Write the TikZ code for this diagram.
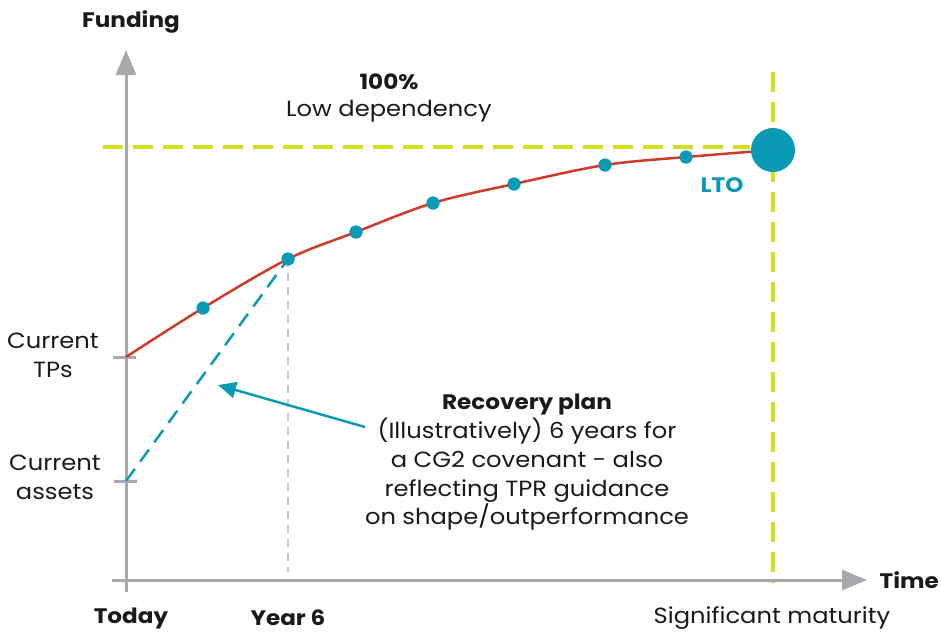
\documentclass[tikz,border=0pt]{standalone}
\usepackage{fontspec}
\setmainfont{Poppins}[FakeStretch=1.1]
\usetikzlibrary{arrows.meta}
\definecolor{axisgray}{HTML}{A7A9AC}
\definecolor{teal}{HTML}{0A9AB5}
\definecolor{curvered}{HTML}{D03A2A}
\definecolor{lime}{HTML}{D3DE1C}
\definecolor{guide}{HTML}{C3CBD6}
\definecolor{ink}{HTML}{1A1A1A}
\tikzset{
  axis/.style={draw=axisgray, line width=3pt},
  axisarrow/.style={-{Triangle[length=25pt,width=20pt]}},
  limedash/.style={draw=lime, line width=4pt, dash pattern=on 20pt off 10pt},
  dot/.style={circle, fill=teal, inner sep=0pt, minimum size=13pt},
  lbl/.style={text=ink, font=\fontsize{22}{28.7}\selectfont, align=center, inner sep=0pt},
  blbl/.style={lbl, font=\fontsize{21}{28.7}\selectfont\bfseries},
}
\begin{document}
\begin{tikzpicture}[x=1pt,y=-1pt]
\useasboundingbox (0,0) rectangle (941,633);
% guides
\draw[limedash] (103,147) -- (750,147);
\draw[limedash] (773,72) -- (773,583);
% axes
\coordinate (yb) at (126,592);
\coordinate (yt) at (126,50);
\coordinate (xl) at (112,580);
\coordinate (xr) at (867,580);
\draw[axis, axisarrow] (yb) -- (yt);
\draw[axis, axisarrow] (xl) -- (xr);
\draw[axis] (113,357) -- (136,357);
\draw[axis] (114,481) -- (137,481);
% points
\coordinate (tp) at (126,357);
\coordinate (ca) at (126,481);
\node[dot] (p1) at (203,308) {};
\node[dot] (p2) at (288,259) {};
\node[dot] (p3) at (356,232) {};
\node[dot] (p4) at (433,203) {};
\node[dot] (p5) at (514,184) {};
\node[dot] (p6) at (605,165) {};
\node[dot] (p7) at (686,157) {};
\coordinate (lto) at (773,150);
% year 6 guide
\coordinate (y6b) at (288,572);
\draw[guide, line width=1.2pt, dash pattern=on 8pt off 6pt] (p2.center) -- (y6b);
% recovery dashed
\draw[teal, line width=2.5pt, dash pattern=on 15pt off 9pt] (ca) -- (p2.center);
% curve
\draw[curvered, line width=2.5pt] plot[smooth, tension=0.55] coordinates {(126,357) (203,308) (288,259) (356,232) (433,203) (514,184) (605,165) (686,157) (773,150)};
% redraw dots on top
\foreach \p in {p1,p2,p3,p4,p5,p6,p7} \fill[teal] (\p) circle (6.5pt);
\node[circle, fill=teal, minimum size=44pt, inner sep=0pt] (ltoc) at (lto) {};
% arrow
\coordinate (arrs) at (365,427);
\coordinate (arre) at (218,385);
\draw[teal, line width=2.5pt, -{Triangle[length=18pt,width=16pt]}] (arrs) -- (arre);
% labels
\node[blbl] (funding) at (131,22) {Funding};
\node[blbl] (pct) at (389,82) {100\%};
\node[lbl] (lowdep) at (389,111) {Low dependency};
\node[blbl, text=teal] (ltolbl) at (722,185) {LTO};
\node[lbl] (ctp) at (53,355) {Current\\TPs};
\node[lbl] (cas) at (55,477) {Current\\assets};
\node[blbl] (rp) at (527,405) {Recovery plan};
\node[lbl, anchor=north] (rptext) at (527,418) {(Illustratively) 6 years for\\a CG2 covenant - also\\reflecting TPR guidance\\on shape/outperformance};
\node[blbl, anchor=east] (time) at (939,580) {Time};
\node[blbl] (today) at (131,618) {Today};
\node[blbl] (y6) at (288,618) {Year 6};
\node[lbl] (sigmat) at (772,618) {Significant maturity};
\end{tikzpicture}
\end{document}
